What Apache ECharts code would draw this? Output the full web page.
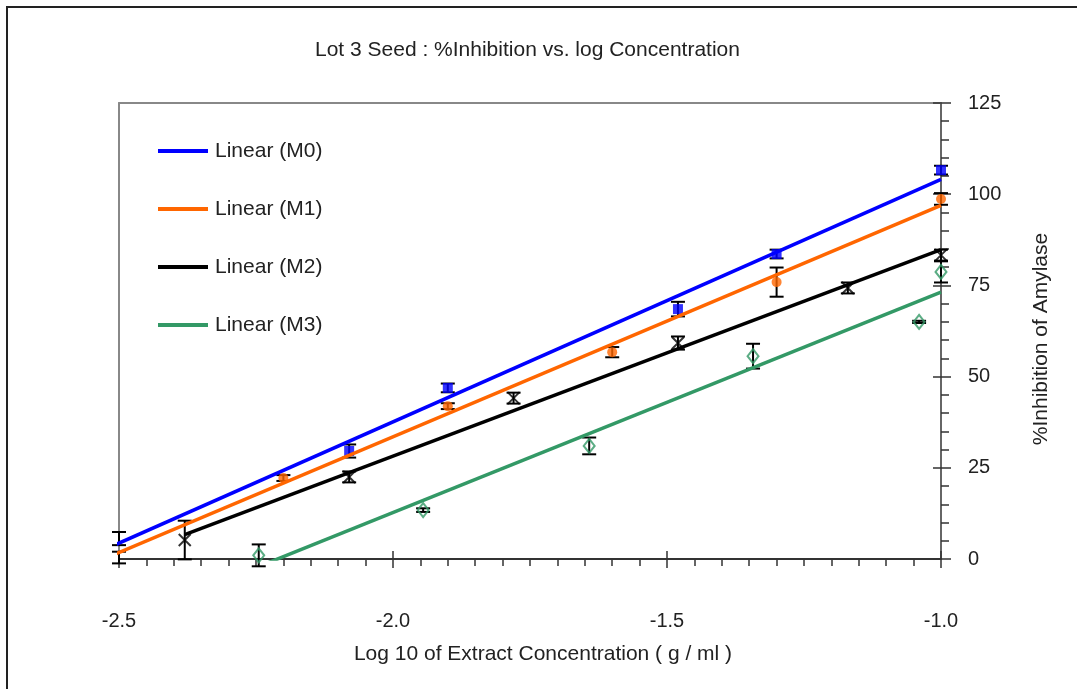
<!DOCTYPE html>
<html>
<head>
<meta charset="utf-8">
<script src="https://cdn.jsdelivr.net/npm/echarts@6/dist/echarts.min.js"></script>
<style>
  html, body { margin: 0; padding: 0; background: #fff; }
  #chart { width: 1077px; height: 689px; }
</style>
</head>
<body>
<div id="chart"></div>
<script>
// log10 concentration, mean % inhibition and error (+/-) for each sample
const xM0 = [-2.505, -2.08, -1.9, -1.48, -1.3, -1.0];
const yM0 = [5.6, 29.6, 46.9, 68.5, 83.6, 106.6];
const eM0 = [1.8, 1.8, 1.2, 2.0, 1.2, 1.2];

const xM1 = [-2.505, -2.2, -1.9, -1.6, -1.3, -1.0];
const yM1 = [0.4, 22.2, 41.9, 56.7, 75.9, 98.7];
const eM1 = [1.6, 0.8, 0.8, 1.4, 4.0, 1.6];

const xM2 = [-2.38, -2.08, -1.78, -1.48, -1.17, -1.0];
const yM2 = [5.2, 22.5, 44.1, 59.2, 74.3, 83.3];
const eM2 = [5.3, 1.5, 1.5, 1.8, 1.5, 1.5];

const xM3 = [-2.245, -1.945, -1.642, -1.343, -1.04, -1.0];
const yM3 = [1.0, 13.4, 31.0, 55.6, 65.0, 78.7];
const eM3 = [3.0, 0.5, 2.3, 3.4, 0.3, 2.9];

const seriesNames = ['M0', 'M1', 'M2', 'M3'];
const xTickLabels = ['-2.5', '-2.0', '-1.5', '-1.0'];
const yTickLabels = ['0', '25', '50', '75', '100', '125'];

const FONT = "'Liberation Sans', Arial, sans-serif";
const colors = ['#0000ff', '#ff6600', '#000000', '#339966'];

// least-squares straight line through a sample, drawn over its x range
function linearFit(xs, ys) {
  const n = xs.length;
  const mx = xs.reduce((a, b) => a + b, 0) / n;
  const my = ys.reduce((a, b) => a + b, 0) / n;
  let sxx = 0, sxy = 0;
  for (let i = 0; i < n; i++) {
    sxx += (xs[i] - mx) * (xs[i] - mx);
    sxy += (xs[i] - mx) * (ys[i] - my);
  }
  const b = sxy / sxx, a = my - b * mx;
  const x0 = Math.min(...xs), x1 = Math.max(...xs);
  return [[x0, a + b * x0], [x1, a + b * x1]];
}

function errorData(xs, ys, es) {
  return xs.map((x, i) => [x, ys[i] - es[i], ys[i] + es[i]]);
}

// vertical error bar with caps; bars just left of the plot sit on its edge
function renderErrorBar(params, api) {
  const x = api.value(0);
  const lo = api.coord([x, api.value(1)]);
  const hi = api.coord([x, api.value(2)]);
  const px = Math.max(lo[0], params.coordSys.x);
  const half = 7;
  const style = { stroke: '#000', lineWidth: 2 };
  return {
    type: 'group',
    children: [
      { type: 'line', shape: { x1: px, y1: lo[1], x2: px, y2: hi[1] }, style },
      { type: 'line', shape: { x1: px - half, y1: hi[1], x2: px + half, y2: hi[1] }, style },
      { type: 'line', shape: { x1: px - half, y1: lo[1], x2: px + half, y2: lo[1] }, style }
    ]
  };
}

const samples = [
  { x: xM0, y: yM0, e: eM0, symbol: 'rect', size: 10,
    item: { color: colors[0] } },
  { x: xM1, y: yM1, e: eM1, symbol: 'circle', size: 10,
    item: { color: colors[1] } },
  { x: xM2, y: yM2, e: eM2, symbol: 'path://M0,0L10,10M10,0L0,10', size: 12,
    item: { color: 'transparent', borderColor: '#000', borderWidth: 2 } },
  { x: xM3, y: yM3, e: eM3, symbol: 'diamond', size: [11, 14],
    item: { color: 'transparent', borderColor: colors[3], borderWidth: 2 } }
];

const series = [];
samples.forEach((s, i) => {
  series.push({
    name: 'Linear (' + seriesNames[i] + ')',
    type: 'line',
    data: linearFit(s.x, s.y),
    symbol: 'none',
    clip: true,
    z: 4,
    lineStyle: { color: colors[i], width: 3.5 },
    itemStyle: { color: colors[i] }
  });
});
samples.forEach((s, i) => {
  series.push({
    name: seriesNames[i] + ' error',
    type: 'custom',
    renderItem: renderErrorBar,
    data: errorData(s.x, s.y, s.e),
    encode: { x: 0, y: [1, 2] },
    clip: false,
    z: 2
  });
  series.push({
    name: seriesNames[i],
    type: 'scatter',
    data: s.x.map((x, k) => [x, s.y[k]]),
    symbol: s.symbol,
    symbolSize: s.size,
    clip: true,
    z: 3,
    itemStyle: s.item
  });
});

const labelStyle = { fontFamily: FONT, fontSize: 20, color: '#222' };

const option = {
  animation: false,
  backgroundColor: '#fff',
  title: {
    text: 'Lot 3 Seed : %Inhibition vs. log Concentration',
    left: 315,
    top: 40,
    padding: 0,
    textStyle: { fontFamily: FONT, fontSize: 21, fontWeight: 'normal', color: '#222' }
  },
  legend: {
    data: seriesNames.map(n => 'Linear (' + n + ')'),
    orient: 'vertical',
    left: 158,
    top: 140,
    padding: 0,
    itemWidth: 50,
    itemHeight: 4,
    itemGap: 36,
    icon: 'rect',
    textStyle: { fontFamily: FONT, fontSize: 21, lineHeight: 22, color: '#222', padding: [0, 0, 0, 2] }
  },
  grid: { left: 119, right: 136, top: 103, bottom: 130 },
  xAxis: [
    {
      type: 'value', min: -2.5, max: -1.0, interval: 0.5, position: 'bottom',
      axisLine: { onZero: false, lineStyle: { color: '#333', width: 2 } },
      axisTick: { length: 9, lineStyle: { color: '#333', width: 1.5 } },
      minorTick: { show: true, splitNumber: 10, length: 7, lineStyle: { color: '#333', width: 1.5 } },
      splitLine: { show: false },
      axisLabel: {
        ...labelStyle, margin: 52,
        formatter: v => xTickLabels[Math.round((v + 2.5) / 0.5)]
      },
      name: 'Log 10 of Extract Concentration ( g / ml )',
      nameLocation: 'middle',
      nameGap: 85,
      nameTextStyle: { fontFamily: FONT, fontSize: 21, color: '#222', padding: [0, 0, 0, 26] }
    },
    {
      type: 'value', min: -2.5, max: -1.0, interval: 0.5, position: 'bottom',
      axisLine: { show: false, onZero: false },
      axisTick: { inside: true, length: 8, lineStyle: { color: '#333', width: 1.5 } },
      axisLabel: { show: false }, splitLine: { show: false }
    },
    {
      type: 'value', min: -2.5, max: -1.0, position: 'top',
      axisLine: { show: true, onZero: false, lineStyle: { color: '#888', width: 2 } },
      axisTick: { show: false }, axisLabel: { show: false }, splitLine: { show: false }
    }
  ],
  yAxis: [
    {
      type: 'value', min: 0, max: 125, interval: 25, position: 'right',
      axisLine: { show: true, onZero: false, lineStyle: { color: '#333', width: 1.5 } },
      axisTick: { show: true, length: 10, lineStyle: { color: '#333', width: 1.5 } },
      minorTick: { show: true, splitNumber: 5, length: 8, lineStyle: { color: '#333', width: 1.5 } },
      splitLine: { show: false },
      axisLabel: {
        ...labelStyle, margin: 27,
        formatter: v => yTickLabels[Math.round(v / 25)]
      },
      name: '%Inhibition of Amylase',
      nameLocation: 'middle',
      nameGap: 90,
      nameTextStyle: { fontFamily: FONT, fontSize: 21, color: '#222', padding: [0, 16, 0, 0] }
    },
    {
      type: 'value', min: 0, max: 125, interval: 25, position: 'right',
      axisLine: { show: false, onZero: false },
      axisTick: { show: true, inside: true, length: 8, lineStyle: { color: '#333', width: 1.5 } },
      axisLabel: { show: false }, splitLine: { show: false }
    },
    {
      type: 'value', min: 0, max: 125, position: 'left',
      axisLine: { show: true, onZero: false, lineStyle: { color: '#888', width: 2 } },
      axisTick: { show: false }, axisLabel: { show: false }, splitLine: { show: false }
    }
  ],
  graphic: [
    {
      type: 'rect',
      shape: { x: 7, y: 7, width: 1100, height: 720 },
      style: { fill: 'none', stroke: '#222', lineWidth: 2 },
      silent: true
    }
  ],
  series
};

const chart = echarts.init(document.getElementById('chart'), null, { renderer: 'canvas' });
chart.setOption(option);
</script>
</body>
</html>
